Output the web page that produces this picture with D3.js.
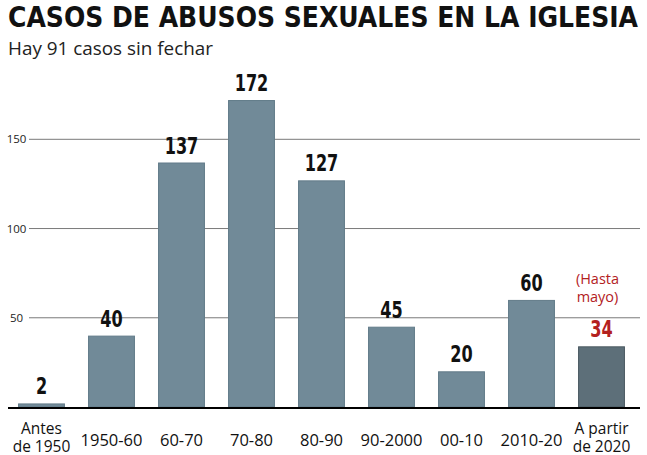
<!DOCTYPE html>
<html><head><meta charset="utf-8">
<script src="https://cdn.jsdelivr.net/npm/d3@7"></script>
<style>
html,body{margin:0;padding:0;background:#fff;}
svg{display:block;}
</style></head>
<body>
<script>
const categories = ["Antes|de 1950","1950-60","60-70","70-80","80-90","90-2000","00-10","2010-20","A partir|de 2020"];
const values = [2,40,137,172,127,45,20,60,34];
const yTicks = [50,100,150];
const title = "CASOS DE ABUSOS SEXUALES EN LA IGLESIA";
const subtitle = "Hay 91 casos sin fechar";
const note = ["(Hasta","mayo)"];

const W = 647, H = 455;
const svg = d3.select("body").append("svg").attr("width", W).attr("height", H);

const x = d3.scaleBand().domain(categories).range([6.5, 636.5]).paddingInner(0.33).paddingOuter(0.165);
const y = d3.scaleLinear().domain([0,150]).range([407, 139.3]);

svg.append("text").attr("x",8).attr("y",27)
  .attr("font-family","'DejaVu Sans Condensed', 'Liberation Sans Narrow', sans-serif")
  .attr("font-weight",700).attr("font-size",29).attr("fill","#111")
  .attr("textLength",630).attr("lengthAdjust","spacingAndGlyphs")
  .text(title);

svg.append("text").attr("x",8).attr("y",55)
  .attr("font-family","'Open Sans', sans-serif").attr("font-size",18).attr("fill","#222")
  .attr("textLength",205).attr("lengthAdjust","spacingAndGlyphs")
  .text(subtitle);

// gridlines
const g = svg.append("g");
g.selectAll("line.grid").data(yTicks).join("line")
  .attr("x1",29).attr("x2",640)
  .attr("y1",d=>y(d)).attr("y2",d=>y(d))
  .attr("stroke","#7a7a7a").attr("stroke-width",1);
g.selectAll("text.tick").data(yTicks).join("text")
  .attr("x",16.5).attr("y",d=>y(d)+4)
  .attr("text-anchor","middle")
  .attr("font-family","'Open Sans', sans-serif").attr("font-size",11.5).attr("fill","#222")
  .text(d=>d);

// bars
const last = categories.length-1;
svg.selectAll("rect.bar").data(values).join("rect")
  .attr("x",(d,i)=>x(categories[i])+0.5)
  .attr("y",d=>y(d)+0.5)
  .attr("width",x.bandwidth()-1)
  .attr("height",d=>y(0)-y(d)-0.5)
  .attr("fill",(d,i)=> i===last ? "#5d6f79" : "#718a98")
  .attr("stroke",(d,i)=> i===last ? "#4b5a62" : "#627b89")
  .attr("stroke-width",1);

// axis baseline
svg.append("line").attr("x1",8).attr("x2",640).attr("y1",408).attr("y2",408)
  .attr("stroke","#000").attr("stroke-width",2);

// value labels
svg.selectAll("text.val").data(values).join("text")
  .attr("x",(d,i)=>x(categories[i])+x.bandwidth()/2)
  .attr("y",d=>y(d)-9)
  .attr("text-anchor","middle")
  .attr("font-family","'DejaVu Sans Condensed', sans-serif")
  .attr("font-weight",700).attr("font-size",23)
  .attr("textLength",d=>String(d).length*11.2).attr("lengthAdjust","spacingAndGlyphs")
  .attr("fill",(d,i)=> i===last ? "#b3211e" : "#111")
  .text(d=>d);

// note
const lc = x(categories[last])+x.bandwidth()/2 - 4;
svg.selectAll("text.note").data(note).join("text")
  .attr("x",lc).attr("y",(d,i)=>284+i*18)
  .attr("text-anchor","middle")
  .attr("font-family","'Open Sans', sans-serif").attr("font-size",14.5)
  .attr("fill","#b3211e")
  .text(d=>d);

// x labels
categories.forEach((c,i)=>{
  const parts = c.split("|");
  const cx = x(c)+x.bandwidth()/2;
  if(parts.length===1){
    svg.append("text").attr("text-anchor","middle")
      .attr("font-family","'Open Sans', sans-serif").attr("fill","#111")
      .attr("font-size",16.5).attr("x",cx).attr("y",446).text(parts[0]);
  } else {
    parts.forEach((p,j)=> svg.append("text").attr("text-anchor","middle")
      .attr("font-family","'Open Sans', sans-serif").attr("fill","#111")
      .attr("font-size",15.5).attr("x",cx).attr("y",434+j*17.5).text(p));
  }
});
</script>
</body></html>
